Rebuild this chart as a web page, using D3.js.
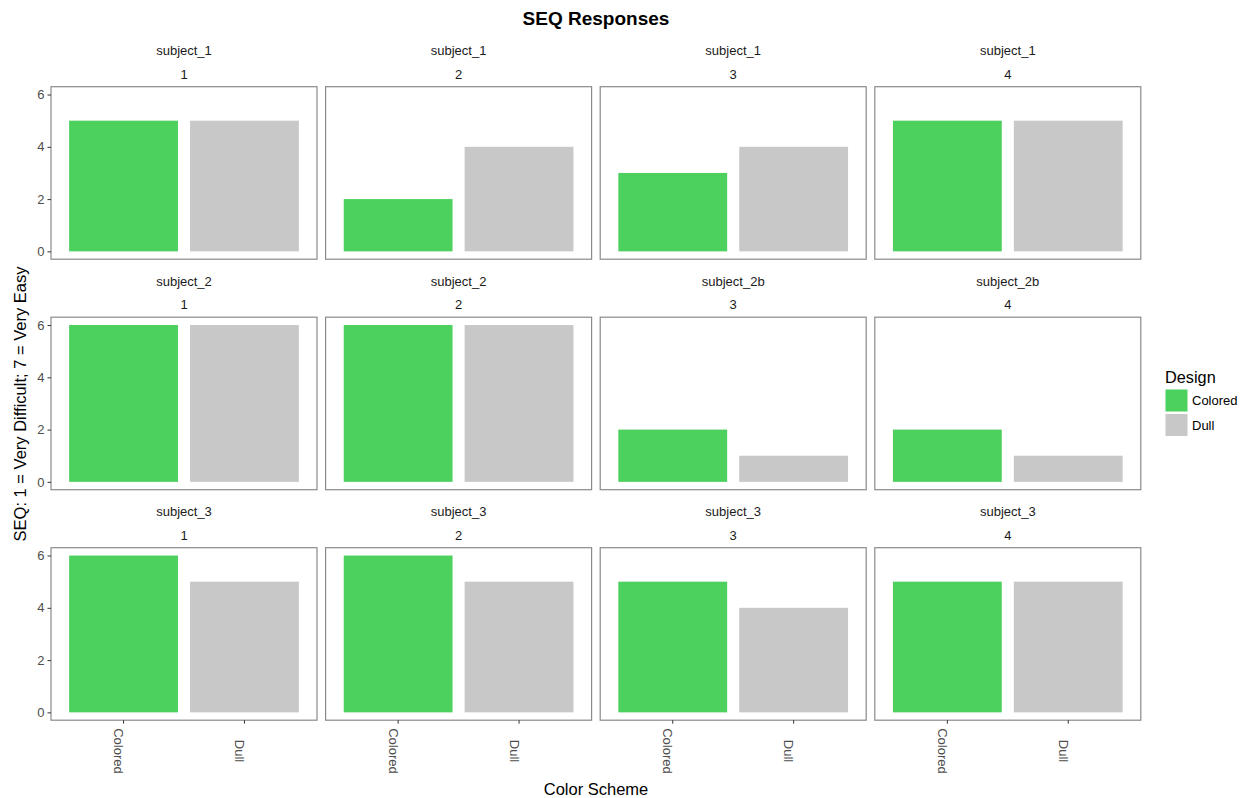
<!DOCTYPE html>
<html><head><meta charset="utf-8">
<script src="https://cdn.jsdelivr.net/npm/d3@7"></script>
<style>body{margin:0;background:#fff;} text{font-family:"Liberation Sans",Arial,sans-serif;}</style>
</head><body>
<svg id="c" width="1247" height="798"></svg>
<script>
const subjects = ["subject_1","subject_1","subject_1","subject_1",
                  "subject_2","subject_2","subject_2b","subject_2b",
                  "subject_3","subject_3","subject_3","subject_3"];
const tasks = ["1","2","3","4","1","2","3","4","1","2","3","4"];
const designs = ["Colored","Dull"];
const coloredValues = [5,2,3,5, 6,6,2,2, 6,6,5,5];
const dullValues    = [5,4,4,5, 6,6,1,1, 5,5,4,5];
const yTicks = [0,2,4,6];
const colors = ["#4cd05e","#c8c8c8"];

const svg = d3.select("#c");
const panelW = 266, panelH = 172.5;
const x0 = 51, gapX = 8.6, y0 = 86.7, stepY = 230.5;

const y = d3.scaleLinear().domain([-0.3, 6.3]).range([panelH, 0]);
// ggplot style: discrete positions 1,2 with expand 0.6 -> range [0.4, 2.6]
const xc = d3.scaleLinear().domain([0.4, 2.6]).range([0, panelW]);
const barW = xc(0.9) - xc(0);

for (let i = 0; i < 12; i++) {
  const r = Math.floor(i/4), c = i % 4;
  const px = x0 + c*(panelW+gapX), py = y0 + r*stepY;
  const g = svg.append("g").attr("transform", `translate(${px},${py})`);
  const vals = [coloredValues[i], dullValues[i]];
  g.selectAll("rect.bar").data(designs).enter().append("rect")
    .attr("x", (d,j) => xc(j+1) - barW/2)
    .attr("width", barW)
    .attr("y", (d,j) => y(vals[j]))
    .attr("height", (d,j) => y(0) - y(vals[j]))
    .attr("fill", (d,j) => colors[j]);
  g.append("rect").attr("x",0).attr("y",0).attr("width",panelW).attr("height",panelH)
    .attr("fill","none").attr("stroke","#8a8a8a").attr("stroke-width",1.2);
  g.append("text").attr("x", panelW/2).attr("y", -36).attr("text-anchor","middle")
    .attr("dominant-baseline","central").attr("font-size",13).attr("fill","#1a1a1a").text(subjects[i]);
  g.append("text").attr("x", panelW/2).attr("y", -12.5).attr("text-anchor","middle")
    .attr("dominant-baseline","central").attr("font-size",13).attr("fill","#1a1a1a").text(tasks[i]);
  if (c === 0) {
    const ax = g.append("g").call(d3.axisLeft(y).tickValues(yTicks).tickFormat(d3.format("d")).tickSize(3.5).tickPadding(3));
    ax.select(".domain").remove();
    ax.selectAll(".tick line").attr("stroke","#333").attr("stroke-width",1);
    ax.selectAll(".tick text").attr("font-size",13).attr("fill","#4d4d4d")
      .attr("font-family","'Liberation Sans',Arial,sans-serif");
  }
  if (r === 2) {
    const ax = g.append("g").attr("transform",`translate(0,${panelH})`);
    designs.forEach((d,j) => {
      const tx = xc(j+1);
      ax.append("line").attr("x1",tx).attr("x2",tx).attr("y1",0).attr("y2",3.5).attr("stroke","#333");
      ax.append("text").attr("transform",`translate(${tx-5},${751-py-panelH}) rotate(90)`)
        .attr("text-anchor","middle").attr("dominant-baseline","central")
        .attr("font-size",13).attr("fill","#4d4d4d").text(d);
    });
  }
}

svg.append("text").attr("x",596).attr("y",25).attr("text-anchor","middle")
  .attr("font-size",19).attr("font-weight","bold").attr("fill","#000").text("SEQ Responses");
svg.append("text").attr("x",596).attr("y",795).attr("text-anchor","middle")
  .attr("font-size",16.5).attr("fill","#000").text("Color Scheme");
svg.append("text").attr("transform","translate(26,404) rotate(-90)").attr("text-anchor","middle")
  .attr("font-size",16.5).attr("fill","#000").text("SEQ: 1 = Very Difficult; 7 = Very Easy");

const lg = svg.append("g").attr("transform","translate(1165,0)");
lg.append("text").attr("x",0).attr("y",383).attr("font-size",16.3).attr("fill","#000").text("Design");
designs.forEach((d,j) => {
  lg.append("rect").attr("x",0.5).attr("y",389.5 + j*24.5).attr("width",22).attr("height",22).attr("fill",colors[j]);
  lg.append("text").attr("x",27).attr("y",400.5 + j*24.5).attr("dominant-baseline","central")
    .attr("font-size",13).attr("fill","#000").text(d);
});
</script>
</body></html>
